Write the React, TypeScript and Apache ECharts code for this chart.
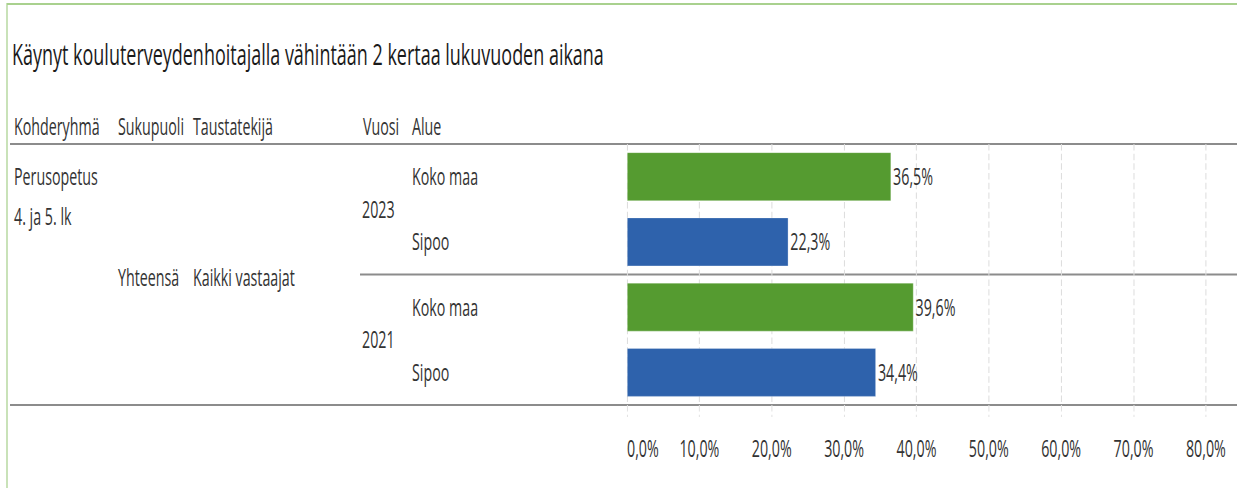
import React, { useEffect, useRef } from "react";
import * as echarts from "echarts";

// ---- data ----
const title = "Käynyt kouluterveydenhoitajalla vähintään 2 kertaa lukuvuoden aikana";
const headers = ["Kohderyhmä", "Sukupuoli", "Taustatekijä", "Vuosi", "Alue"];
const kohderyhma = ["Perusopetus", "4. ja 5. lk"];
const sukupuoli = "Yhteensä";
const taustatekija = "Kaikki vastaajat";
const years = ["2023", "2021"];
const areas = ["Koko maa", "Sipoo"];
const values2023 = [36.5, 22.3];
const values2021 = [39.6, 34.4];
const xTicks = [0, 10, 20, 30, 40, 50, 60, 70, 80];

// the reference uses a horizontally squeezed font: draw wider and squeeze
const S = 0.62;
const W = 1237, H = 488;
const FONT = "'Open Sans', sans-serif";
const FS = 23;
const areaColors: Record<string, string> = { "Koko maa": "#559B30", Sipoo: "#2E62AC" };

export default function App() {
  const ref = useRef<HTMLDivElement>(null);
  useEffect(() => {
    if (!ref.current) return;
    const chart = echarts.init(ref.current, null, { renderer: "svg" });
    const X = (px: number) => px / S;
    const gridLeft = 627, gridTop = 144, gridBottomY = 405, gridRight = 31;
    const midY = (gridTop + gridBottomY) / 2;

    const valuesByYear = [values2023, values2021];
    const rowKeys: string[] = [];
    const data: any[] = [];
    years.forEach((y, yi) => {
      areas.forEach((a, ai) => {
        rowKeys.push(y + "|" + a);
        data.push({ value: valuesByYear[yi][ai], itemStyle: { color: areaColors[a] } });
      });
    });

    const fmt = (v: number) => v.toFixed(1).replace(".", ",") + "%";
    const txt = (text: string, x: number, y: number, size = FS, color = "#333") => ({
      type: "text",
      x: X(x),
      y,
      style: { text, fill: color, font: `${size}px ${FONT}`, verticalAlign: "middle", align: "left" },
    });
    const hline = (x1: number, x2: number, y: number, color = "#8c8c8c") => ({
      type: "line",
      shape: { x1: X(x1), y1: y, x2: X(x2), y2: y },
      style: { stroke: color, lineWidth: 2 },
    });

    chart.setOption({
      animation: false,
      textStyle: { fontFamily: FONT },
      grid: { left: X(gridLeft), top: gridTop, right: X(gridRight), bottom: H - gridBottomY, containLabel: false },
      xAxis: {
        type: "value",
        min: xTicks[0],
        max: xTicks[xTicks.length - 1],
        interval: 10,
        axisLine: { show: false },
        axisTick: { show: true, length: 12, lineStyle: { color: "#e2e2e2", type: "dashed", width: 1 / S } },
        splitLine: { show: true, lineStyle: { color: "#dcdcdc", type: "dashed", width: 1 / S } },
        axisLabel: {
          margin: 32,
          fontSize: FS,
          color: "#333",
          fontFamily: FONT,
          formatter: (v: number) => fmt(v),
          alignMinLabel: "left",
        },
      },
      yAxis: [
        {
          type: "category",
          data: rowKeys,
          inverse: true,
          axisLine: { show: false },
          axisTick: { show: false },
          axisLabel: {
            align: "left",
            margin: X(gridLeft - 412),
            fontSize: FS,
            color: "#333",
            fontFamily: FONT,
            formatter: (v: string) => v.split("|")[1],
          },
        },
        {
          type: "category",
          data: years,
          inverse: true,
          position: "left",
          axisLine: { show: false },
          axisTick: { show: false },
          axisLabel: {
            align: "left",
            margin: X(gridLeft - 362),
            fontSize: FS,
            color: "#333",
            fontFamily: FONT,
          },
        },
      ],
      series: [
        {
          type: "bar",
          yAxisIndex: 0,
          data,
          barWidth: 49,
          itemStyle: { borderColor: "rgba(255,255,255,0.35)", borderWidth: 1 },
          label: {
            show: true,
            position: "right",
            distance: X(2),
            fontSize: FS,
            color: "#333",
            fontFamily: FONT,
            formatter: (p: any) => fmt(p.value),
          },
        },
      ],
      graphic: [
        {
          type: "rect",
          shape: { x: X(7), y: 4, width: X(W + 20), height: H + 20 },
          style: { fill: "none", stroke: "#a9d18e", lineWidth: 2 },
          silent: true,
        },
        txt(title, 12, 54, 29, "#1a1a1a"),
        txt(headers[0], 14, 127),
        txt(headers[1], 118, 127),
        txt(headers[2], 193, 127),
        txt(headers[3], 363, 127),
        txt(headers[4], 412, 127),
        txt(kohderyhma[0], 14, 177),
        txt(kohderyhma[1], 14, 217),
        txt(sukupuoli, 118, midY + 3),
        txt(taustatekija, 193, midY + 3),
        hline(10, W, gridTop),
        hline(360, W, midY),
        hline(10, W, gridBottomY),
      ],
    });
    return () => chart.dispose();
  }, []);
  return (
    <div style={{ position: "absolute", left: 0, top: 0, width: W, height: H, overflow: "hidden", background: "#fff" }}>
      <div
        ref={ref}
        style={{ width: W / S, height: H, transform: `scaleX(${S})`, transformOrigin: "0 0" }}
      />
    </div>
  );
}
